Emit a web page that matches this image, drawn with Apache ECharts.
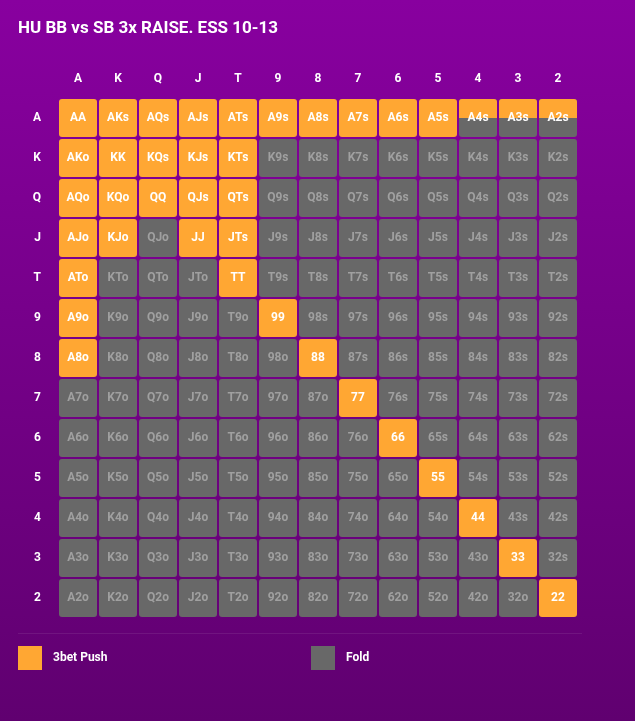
<!DOCTYPE html>
<html>
<head>
<meta charset="utf-8">
<title>HU BB vs SB 3x RAISE. ESS 10-13</title>
<script src="https://cdn.jsdelivr.net/npm/echarts@6/dist/echarts.min.js"></script>
<style>
  html, body { margin: 0; padding: 0; background: #600070; }
  #chart { width: 635px; height: 721px; }
</style>
</head>
<body>
<div id="chart"></div>
<script>
// rangos de cartas (columnas y filas)
const ranks = ['A', 'K', 'Q', 'J', 'T', '9', '8', '7', '6', '5', '4', '3', '2'];

// frecuencia de 3bet push por celda (fila = primera carta, columna = segunda)
const pushFreq = [
    [1, 1, 1, 1, 1, 1, 1, 1, 1, 1, 0.5, 0.5, 0.5], // A
    [1, 1, 1, 1, 1, 0, 0, 0, 0, 0, 0, 0, 0],       // K
    [1, 1, 1, 1, 1, 0, 0, 0, 0, 0, 0, 0, 0],       // Q
    [1, 1, 0, 1, 1, 0, 0, 0, 0, 0, 0, 0, 0],       // J
    [1, 0, 0, 0, 1, 0, 0, 0, 0, 0, 0, 0, 0],       // T
    [1, 0, 0, 0, 0, 1, 0, 0, 0, 0, 0, 0, 0],       // 9
    [1, 0, 0, 0, 0, 0, 1, 0, 0, 0, 0, 0, 0],       // 8
    [0, 0, 0, 0, 0, 0, 0, 1, 0, 0, 0, 0, 0],       // 7
    [0, 0, 0, 0, 0, 0, 0, 0, 1, 0, 0, 0, 0],       // 6
    [0, 0, 0, 0, 0, 0, 0, 0, 0, 1, 0, 0, 0],       // 5
    [0, 0, 0, 0, 0, 0, 0, 0, 0, 0, 1, 0, 0],       // 4
    [0, 0, 0, 0, 0, 0, 0, 0, 0, 0, 0, 1, 0],       // 3
    [0, 0, 0, 0, 0, 0, 0, 0, 0, 0, 0, 0, 1]        // 2
];

const legendNames = ['3bet Push', 'Fold'];

const PUSH_COLOR = '#ffa733';
const FOLD_COLOR = '#686868';

function nombreMano(fila, col) {
    if (fila === col) return ranks[fila] + ranks[col];
    if (col > fila) return ranks[fila] + ranks[col] + 's';
    return ranks[col] + ranks[fila] + 'o';
}

const celdas = [];
pushFreq.forEach((filaVals, fila) => {
    filaVals.forEach((v, col) => {
        celdas.push([col, fila, v, nombreMano(fila, col)]);
    });
});

function rectCelda(api) {
    const c = api.coord([api.value(0), api.value(1)]);
    const s = api.size([1, 1]);
    const w = s[0] - 2, h = s[1] - 2;
    return { x: c[0] - w / 2, y: c[1] - h / 2, w: w, h: h };
}

function dibujarFold(params, api) {
    const r = rectCelda(api);
    if (api.value(2) >= 1) return null;
    return {
        type: 'rect',
        shape: { x: r.x, y: r.y, width: r.w, height: r.h, r: 3 },
        style: { fill: FOLD_COLOR }
    };
}

function dibujarPush(params, api) {
    const r = rectCelda(api);
    const f = api.value(2);
    const hijos = [];
    if (f > 0) {
        const hp = r.h * f;
        hijos.push({
            type: 'rect',
            shape: { x: r.x, y: r.y, width: r.w, height: hp, r: f >= 1 ? 3 : [3, 3, 0, 0] },
            style: { fill: PUSH_COLOR }
        });
    }
    hijos.push({
        type: 'text',
        style: {
            x: r.x + r.w / 2,
            y: r.y + r.h / 2,
            text: api.value(3),
            fill: f > 0 ? '#ffffff' : '#a0a0a0',
            font: 'bold 12px Roboto',
            align: 'center',
            verticalAlign: 'middle'
        }
    });
    return { type: 'group', children: hijos };
}

const chart = echarts.init(document.getElementById('chart'));

const legendBase = {
    top: 646,
    padding: 0,
    itemWidth: 24, itemHeight: 24,
    icon: 'rect',
    selectedMode: false,
    textStyle: { color: '#ffffff', fontWeight: 'bold', fontSize: 12, padding: [0, 0, 0, 6] }
};

const option = {
    backgroundColor: {
        type: 'linear', x: 0, y: 0, x2: 0, y2: 1,
        colorStops: [
            { offset: 0, color: '#88009f' },
            { offset: 1, color: '#600070' }
        ]
    },
    textStyle: { fontFamily: 'Roboto' },
    title: {
        text: 'HU BB vs SB 3x RAISE. ESS 10-13',
        left: 18,
        top: 20,
        padding: 0,
        textStyle: { color: '#ffffff', fontSize: 17, fontWeight: 'bold', fontFamily: 'Roboto' }
    },
    grid: { left: 58, top: 98, width: 520, height: 520 },
    xAxis: {
        type: 'category',
        data: ranks,
        position: 'top',
        axisLine: { show: false },
        axisTick: { show: false },
        splitLine: { show: false },
        axisLabel: { color: '#ffffff', fontWeight: 'bold', fontSize: 12, margin: 13 }
    },
    yAxis: {
        type: 'category',
        data: ranks,
        inverse: true,
        axisLine: { show: false },
        axisTick: { show: false },
        splitLine: { show: false },
        axisLabel: { color: '#ffffff', fontWeight: 'bold', fontSize: 12, margin: 17 }
    },
    legend: [
        Object.assign({}, legendBase, { data: [legendNames[0]], left: 18 }),
        Object.assign({}, legendBase, { data: [legendNames[1]], left: 311 })
    ],
    graphic: [
        {
            type: 'line',
            shape: { x1: 18, y1: 633.5, x2: 582, y2: 633.5 },
            style: { stroke: 'rgba(255,255,255,0.08)', lineWidth: 1 }
        }
    ],
    series: [
        {
            name: legendNames[1],
            type: 'custom',
            renderItem: dibujarFold,
            itemStyle: { color: FOLD_COLOR },
            encode: { x: 0, y: 1 },
            data: celdas,
            silent: true
        },
        {
            name: legendNames[0],
            type: 'custom',
            renderItem: dibujarPush,
            itemStyle: { color: PUSH_COLOR },
            encode: { x: 0, y: 1 },
            data: celdas,
            silent: true
        }
    ]
};

chart.setOption(option);
</script>
</body>
</html>
